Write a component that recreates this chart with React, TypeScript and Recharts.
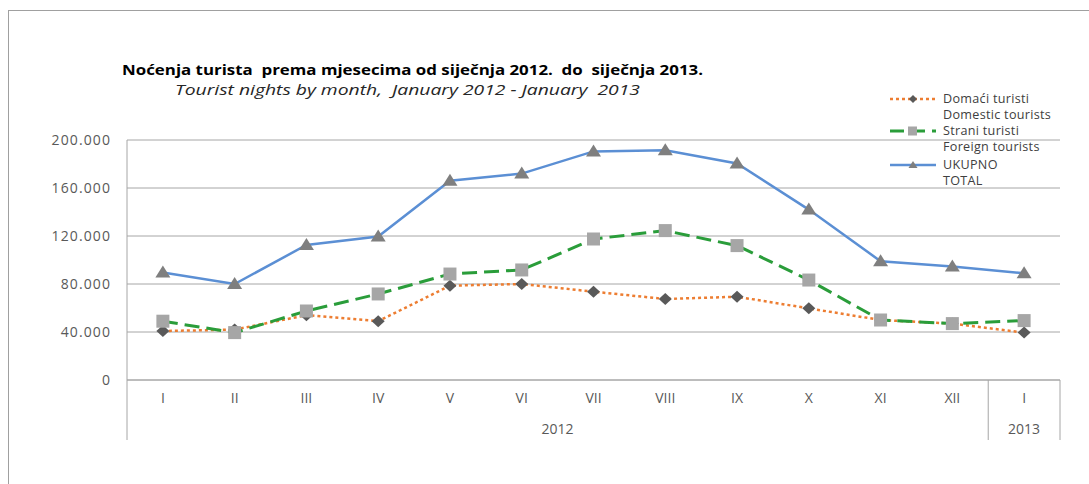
import React from 'react';
import {
  LineChart, Line, XAxis, YAxis, CartesianGrid, Legend, ReferenceLine,
} from 'recharts';

const months = ['I', 'II', 'III', 'IV', 'V', 'VI', 'VII', 'VIII', 'IX', 'X', 'XI', 'XII', 'I'];
const domestic = [40800, 42000, 54000, 49000, 78600, 80000, 73600, 67500, 69400, 59700, 50000, 47000, 39500];
const foreign = [49000, 39500, 57500, 71700, 88300, 91700, 117500, 124500, 112000, 83300, 50000, 47000, 49500];
const total = [89500, 80000, 112500, 119500, 166000, 172000, 190500, 191500, 180500, 142000, 99000, 94500, 89000];
const yTicks = [0, 40000, 80000, 120000, 160000, 200000];
const yearGroups = [
  { label: '2012', start: 0, end: 12 },
  { label: '2013', start: 12, end: 13 },
];
const seriesNames = ['Domaći turisti', 'Strani turisti', 'UKUPNO'];
const seriesNamesEn = ['Domestic tourists', 'Foreign tourists', 'TOTAL'];
const titleText = 'Noćenja turista  prema mjesecima od siječnja 2012.  do  siječnja 2013.';
const subtitleText = 'Tourist nights by month,  January 2012 - January  2013';

const data = months.map((m, i) => ({
  month: m,
  pos: i + 0.5,
  domestic: domestic[i],
  foreign: foreign[i],
  total: total[i],
}));

const yearTicks = yearGroups.map((g) => (g.start + g.end) / 2);
const boundaries = [0, ...yearGroups.map((g) => g.end)];

const FONT = '"Open Sans", "Liberation Sans", Arial, sans-serif';
const ORANGE = '#ED7D31';
const GREEN = '#2A9D3A';
const BLUE = '#5B8FD4';
const GRID = '#A6A6A6';
const BAND = 933 / months.length / 2;

const fmt = (v: number) => String(v).replace(/\B(?=(\d{3})+(?!\d))/g, '.');

const Diamond = (props: any) => {
  const { cx, cy } = props;
  if (cx == null || cy == null) return null;
  return (
    <polygon
      points={`${cx},${cy - 6} ${cx + 6.5},${cy} ${cx},${cy + 6} ${cx - 6.5},${cy}`}
      fill="#595959"
    />
  );
};
const Square = (props: any) => {
  const { cx, cy } = props;
  if (cx == null || cy == null) return null;
  return <rect x={cx - 6.5} y={cy - 6.5} width={13} height={13} fill="#A6A6A6" />;
};
const Triangle = (props: any) => {
  const { cx, cy } = props;
  if (cx == null || cy == null) return null;
  return (
    <polygon
      points={`${cx},${cy - 7} ${cx + 7.5},${cy + 5} ${cx - 7.5},${cy + 5}`}
      fill="#7F7F7F"
    />
  );
};

const legendStyles = [
  { color: ORANGE, dash: '3 3', width: 2.5 },
  { color: GREEN, dash: '14 7', width: 3 },
  { color: BLUE, dash: undefined as string | undefined, width: 2.5 },
];

const LegendMarker = ({ idx }: { idx: number }) => {
  const s = legendStyles[idx];
  return (
    <svg width={52} height={16} style={{ display: 'block', flex: 'none' }}>
      <line x1={2} y1={8} x2={48} y2={8} stroke={s.color} strokeWidth={s.width} strokeDasharray={s.dash} />
      {idx === 0 && <polygon points="25,4 29,8 25,12 21,8" fill="#595959" />}
      {idx === 1 && <rect x={20} y={3.5} width={9} height={9} fill="#A6A6A6" />}
      {idx === 2 && <polygon points="25,4 29.5,11 20.5,11" fill="#7F7F7F" />}
    </svg>
  );
};

const renderLegend = (props: any) => {
  const payload = props.payload || [];
  return (
    <div style={{ fontFamily: FONT, fontSize: 12.6, color: '#404040', letterSpacing: 0.3 }}>
      {payload.map((entry: any, i: number) => (
        <div key={i} style={{ display: 'flex', alignItems: 'flex-start', marginBottom: i === 1 ? 2 : 0 }}>
          <LegendMarker idx={i} />
          <div style={{ marginLeft: 3, lineHeight: '16px' }}>
            <div>{entry.value}</div>
            <div>{seriesNamesEn[i]}</div>
          </div>
        </div>
      ))}
    </div>
  );
};

export default function App() {
  return (
    <div style={{ position: 'absolute', left: 0, top: 0, width: 1089, height: 484, overflow: 'hidden', background: '#fff' }}>
      <div
        style={{
          position: 'absolute', left: 8, top: 10, width: 1081, height: 474,
          borderTop: '1px solid #A0A0A0', borderLeft: '1px solid #A0A0A0', boxSizing: 'border-box',
        }}
      />
      <svg width={1089} height={120} style={{ position: 'absolute', left: 0, top: 0 }}>
        <text x={122} y={75} fontFamily={FONT} fontWeight="bold" fontSize={14.5} fill="#000"
          textLength={581} lengthAdjust="spacingAndGlyphs" style={{ whiteSpace: 'pre' }}>
          {titleText}
        </text>
        <text x={175} y={95} fontFamily={FONT} fontStyle="italic" fontSize={14} fill="#262626"
          textLength={465} lengthAdjust="spacingAndGlyphs" style={{ whiteSpace: 'pre' }}>
          {subtitleText}
        </text>
      </svg>
      <div style={{ position: 'absolute', left: 0, top: 0 }}>
        <LineChart
          width={1089}
          height={484}
          data={data}
          margin={{ top: 140, right: 29, bottom: 44, left: 47 }}
        >
          <CartesianGrid horizontal vertical={false} stroke={GRID} strokeWidth={1} />
          <XAxis
            dataKey="month"
            xAxisId={0}
            height={30}
            padding={{ left: BAND, right: BAND }}
            axisLine={{ stroke: GRID }}
            tickLine={false}
            tickSize={0}
            tickMargin={13}
            interval={0}
            tick={{ fontFamily: FONT, fontSize: 14, fill: '#595959' }}
          />
          <XAxis
            xAxisId="yr"
            dataKey="pos"
            type="number"
            domain={[0, months.length]}
            allowDataOverflow
            ticks={yearTicks}
            height={30}
            axisLine={false}
            tickLine={false}
            tickSize={0}
            tickMargin={14}
            interval={0}
            tickFormatter={(v: number) => {
              const g = yearGroups.find((gg) => (gg.start + gg.end) / 2 === v);
              return g ? g.label : '';
            }}
            tick={{ fontFamily: FONT, fontSize: 14, fill: '#595959' }}
          />
          <YAxis
            width={80}
            domain={[0, 200000]}
            ticks={yTicks}
            axisLine={false}
            tickLine={false}
            tickSize={0}
            tickMargin={16}
            tickFormatter={fmt}
            tick={{ fontFamily: FONT, fontSize: 14, fill: '#595959', letterSpacing: 1.1 }}
          />
          <ReferenceLine
            xAxisId="yr"
            segment={[{ x: 0, y: 200000 }, { x: 0, y: -50000 }]}
            stroke={GRID}
            ifOverflow="visible"
          />
          {boundaries.slice(1).map((b) => (
            <ReferenceLine
              key={b}
              xAxisId="yr"
              segment={[{ x: b, y: 0 }, { x: b, y: -50000 }]}
              stroke={GRID}
              ifOverflow="visible"
            />
          ))}
          <Legend
            layout="vertical"
            align="center"
            verticalAlign="middle"
            content={renderLegend}
            wrapperStyle={{ position: 'absolute', left: 888, top: 91, width: 200 }}
          />
          <Line
            dataKey="domestic"
            name={seriesNames[0]}
            stroke={ORANGE}
            strokeWidth={2.5}
            strokeDasharray="3 3"
            dot={<Diamond />}
            activeDot={false}
            isAnimationActive={false}
          />
          <Line
            dataKey="foreign"
            name={seriesNames[1]}
            stroke={GREEN}
            strokeWidth={3}
            strokeDasharray="15 7"
            dot={<Square />}
            activeDot={false}
            isAnimationActive={false}
          />
          <Line
            dataKey="total"
            name={seriesNames[2]}
            stroke={BLUE}
            strokeWidth={2.5}
            dot={<Triangle />}
            activeDot={false}
            isAnimationActive={false}
          />
        </LineChart>
      </div>
    </div>
  );
}
